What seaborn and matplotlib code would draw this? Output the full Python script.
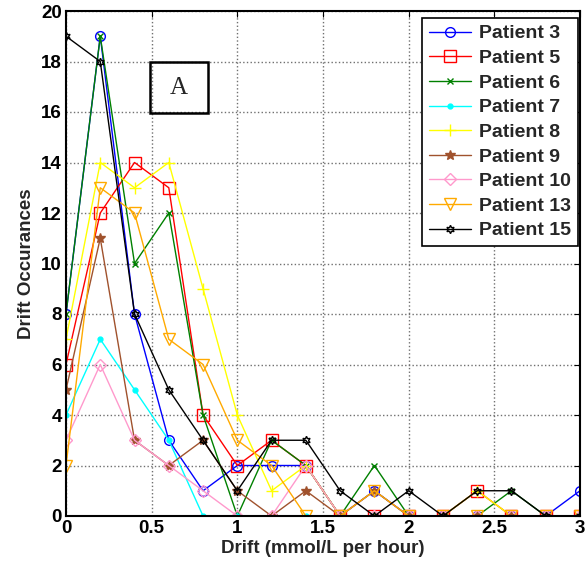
import numpy as np
import pandas as pd
import matplotlib
matplotlib.use("Agg")
import matplotlib.pyplot as plt
import matplotlib.patches as mpatches
from matplotlib.ticker import FuncFormatter
import seaborn as sns

drift = [0, 0.2, 0.4, 0.6, 0.8, 1.0, 1.2, 1.4, 1.6, 1.8, 2.0, 2.2, 2.4, 2.6, 2.8, 3.0]

patient_3  = [8, 19, 8, 3, 1, 2, 2, 2, 0, 1, 0, 0, 0, 0, 0, 1]
patient_5  = [6, 12, 14, 13, 4, 2, 3, 2, 0, 0, 0, 0, 1, 0, 0, 0]
patient_6  = [8, 19, 10, 12, 4, 0, 3, 2, 0, 2, 0, 0, 0, 1, 0, 0]
patient_7  = [4, 7, 5, 3, 0, 0, 0, 0, 0, 0, 0, 0, 0, 0, 0, 0]
patient_8  = [7, 14, 13, 14, 9, 4, 1, 2, 0, 0, 0, 0, 1, 0, 0, 0]
patient_9  = [5, 11, 3, 2, 3, 1, 0, 1, 0, 1, 0, 0, 0, 0, 0, 0]
patient_10 = [3, 6, 3, 2, 1, 0, 0, 2, 0, 0, 0, 0, 0, 0, 0, 0]
patient_13 = [2, 13, 12, 7, 6, 3, 2, 0, 0, 1, 0, 0, 0, 0, 0, 0]
patient_15 = [19, 18, 8, 5, 3, 1, 3, 3, 1, 0, 1, 0, 1, 1, 0, 0]

labels = ["Patient 3", "Patient 5", "Patient 6", "Patient 7", "Patient 8",
          "Patient 9", "Patient 10", "Patient 13", "Patient 15"]
series = [patient_3, patient_5, patient_6, patient_7, patient_8,
          patient_9, patient_10, patient_13, patient_15]

x_ticks = [0, 0.5, 1, 1.5, 2, 2.5, 3]
y_ticks = [0, 2, 4, 6, 8, 10, 12, 14, 16, 18, 20]

colors = ["#0000ff", "#ff0000", "#008000", "#00ffff", "#ffff00",
          "#a0522d", "#ff99cc", "#ffaa00", "#000000"]
markers = ["o", "s", "x", "o", "+", "*", "D", "v", (6, 1, 0)]
msizes = [7, 8, 4, 3.5, 8, 7, 6, 8, 6]
filled = [False, False, True, True, True, True, False, False, False]

sns.set_style("white")
plt.rcParams["font.family"] = ["Liberation Sans", "DejaVu Sans"]
plt.rcParams["font.weight"] = "bold"

fig = plt.figure(figsize=(5.87, 5.69), dpi=100)
ax = fig.add_axes([66 / 587, 1 - 516 / 569, 514 / 587, 505 / 569])

for lab, vals, c, m, ms, f in zip(labels, series, colors, markers, msizes, filled):
    df = pd.DataFrame({"Drift": drift, "Count": vals})
    sns.lineplot(data=df, x="Drift", y="Count", ax=ax, color=c, marker=m,
                 markersize=ms, markerfacecolor=(c if f else "none"),
                 markeredgecolor=c, markeredgewidth=1.0, linewidth=1.0,
                 label=lab, errorbar=None)

ax.set_xlim(0, 3)
ax.set_ylim(0, 20)
ax.set_xticks(x_ticks)
ax.set_yticks(y_ticks)
ax.xaxis.set_major_formatter(FuncFormatter(lambda v, p: "%g" % v))
ax.yaxis.set_major_formatter(FuncFormatter(lambda v, p: "%g" % v))
ax.grid(True, color="#707070", linestyle=":", linewidth=1.0)
ax.set_axisbelow(True)
ax.tick_params(direction="in", length=4, width=0.8, top=True, right=True,
               labelsize=13.5, pad=3, colors="black")
for lbl in ax.get_xticklabels() + ax.get_yticklabels():
    lbl.set_fontweight("bold")
for sp in ax.spines.values():
    sp.set_visible(True)
    sp.set_color("black")
    sp.set_linewidth(1.5)

ax.set_xlabel("Drift (mmol/L per hour)", fontsize=13.5, fontweight="bold", labelpad=2)
ax.set_ylabel("Drift Occurances", fontsize=13.5, fontweight="bold", labelpad=4)

leg = ax.legend(loc="upper right", bbox_to_anchor=(0.996, 0.986), fontsize=14,
                frameon=True, fancybox=False, edgecolor="black", framealpha=1,
                handlelength=2.2, labelspacing=0.36, borderpad=0.35,
                handletextpad=0.4, borderaxespad=0)
leg.get_frame().set_linewidth(1.2)
for t in leg.get_texts():
    t.set_fontweight("bold")

# "A" panel label box
rect = mpatches.Rectangle((0.49, 15.95), 0.34, 2.05, fill=False,
                          edgecolor="black", linewidth=1.8, zorder=5)
ax.add_patch(rect)
ax.text(0.66, 16.95, "A", fontsize=18, fontweight="normal",
        family=["Liberation Serif", "DejaVu Serif"], ha="center", va="center",
        zorder=6)

fig.savefig("out.png", dpi=100)
